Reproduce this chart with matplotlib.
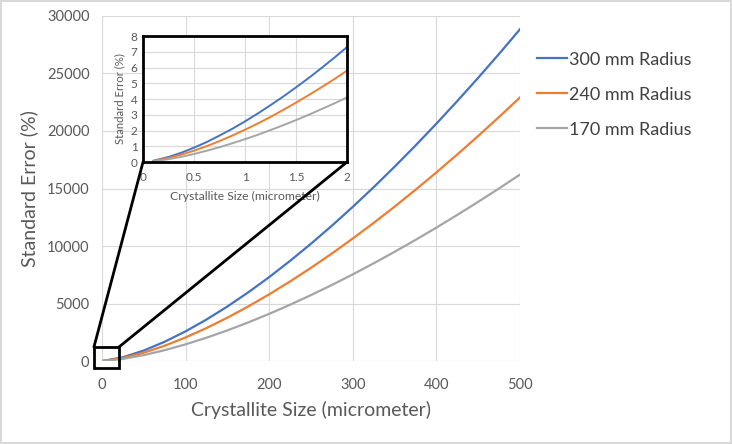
import matplotlib.pyplot as plt
from matplotlib.patches import Rectangle, ConnectionPatch

plt.rcParams['font.family'] = ['Lato', 'DejaVu Sans']

# main chart data (micrometer, %)
size = [0.1, 25, 50, 75, 100, 125, 150, 175, 200, 225, 250, 275, 300,
        325, 350, 375, 400, 425, 450, 475, 500]
err300 = [0, 322, 912, 1676, 2580, 3606, 4740, 5973, 7297, 8708, 10199,
          11766, 13406, 15116, 16893, 18736, 20640, 22605, 24629, 26709, 28850]
err240 = [0, 256, 725, 1331, 2050, 2865, 3766, 4746, 5798, 6919, 8104,
          9348, 10652, 12011, 13423, 14887, 16400, 17962, 19569, 21222, 22920]
err170 = [0, 181, 513, 942, 1450, 2026, 2664, 3357, 4101, 4894, 5732,
          6612, 7534, 8496, 9494, 10530, 11600, 12705, 13842, 15010, 16212]

# inset data
size_zoom = [0.1, 0.25, 0.375, 0.5, 0.625, 0.75, 0.875, 1.0, 1.125, 1.25,
             1.375, 1.5, 1.625, 1.75, 1.875, 2.0]
zoom300 = [0.08, 0.32, 0.59, 0.91, 1.27, 1.68, 2.11, 2.58, 3.08, 3.61,
           4.16, 4.74, 5.34, 5.97, 6.62, 7.3]
zoom240 = [0.06, 0.26, 0.47, 0.72, 1.01, 1.33, 1.68, 2.05, 2.45, 2.86,
           3.31, 3.77, 4.25, 4.75, 5.26, 5.8]
zoom170 = [0.05, 0.18, 0.33, 0.51, 0.72, 0.94, 1.19, 1.45, 1.73, 2.03,
           2.34, 2.66, 3.0, 3.36, 3.72, 4.1]

labels = ["300 mm Radius", "240 mm Radius", "170 mm Radius"]
colors = ["#4472C4", "#ED7D31", "#A5A5A5"]
grid_c = "#D9D9D9"
text_c = "#595959"

fig = plt.figure(figsize=(7.32, 4.44), dpi=100)
fig.patch.set_edgecolor(grid_c)
fig.patch.set_linewidth(1.5)

ax = fig.add_axes([0.1393, 0.1869, 0.5711, 0.7771])
for ys, c, lab in zip([err300, err240, err170], colors, labels):
    ax.plot(size, ys, color=c, lw=1.6, label=lab)
ax.set_xlim(0, 500)
ax.set_ylim(0, 30000)
ax.set_xticks(range(0, 501, 100))
ax.set_yticks(range(0, 30001, 5000))
ax.grid(True, color=grid_c, lw=0.8)
ax.set_axisbelow(True)
for s in ax.spines.values():
    s.set_visible(False)
ax.tick_params(axis='y', length=0, labelsize=10.5, labelcolor=text_c, pad=9)
ax.tick_params(axis='x', length=0, labelsize=10.5, labelcolor=text_c, pad=12)
ax.set_xlabel("Crystallite Size (micrometer)", fontsize=14, color=text_c, labelpad=7)
ax.set_ylabel("Standard Error (%)", fontsize=14, color=text_c, labelpad=6)

ax.legend(loc="center left", bbox_to_anchor=(1.02, 0.772), frameon=False,
          fontsize=13, labelcolor="#404040", handlelength=1.65,
          handletextpad=0.08, labelspacing=1.05, borderpad=0)

# inset
ins = fig.add_axes([0.1954, 0.6351, 0.2787, 0.2838])
for ys, c in zip([zoom300, zoom240, zoom170], colors):
    ins.plot(size_zoom, ys, color=c, lw=1.4)
ins.set_xlim(0, 2)
ins.set_ylim(0, 8)
ins.set_xticks([0, 0.5, 1, 1.5, 2])
ins.set_xticklabels(["0", "0.5", "1", "1.5", "2"])
ins.set_yticks(range(0, 9))
ins.grid(True, color=grid_c, lw=0.8)
ins.set_axisbelow(True)
for s in ins.spines.values():
    s.set_color("black")
    s.set_linewidth(2)
ins.tick_params(axis='y', length=0, labelsize=8.5, labelcolor=text_c, pad=4)
ins.tick_params(axis='x', length=0, labelsize=8.5, labelcolor=text_c, pad=7)
ins.set_xlabel("Crystallite Size (micrometer)", fontsize=8.7, color=text_c, labelpad=6)
ins.set_ylabel("Standard Error (%)", fontsize=8.2, color=text_c, labelpad=4)

# zoom box on main chart and connector lines
x0, x1 = -9.6, 20.3
y0, y1 = -609, 1217
ax.add_patch(Rectangle((x0, y0), x1 - x0, y1 - y0, fill=False, ec="black",
                       lw=2, clip_on=False, zorder=5))
for xa, xb in [(x0, 0), (x1, 1)]:
    con = ConnectionPatch(xyA=(xa, y1), coordsA=ax.transData,
                          xyB=(xb, 0), coordsB=ins.transAxes,
                          color="black", lw=2)
    fig.add_artist(con)

fig.savefig("out.png", dpi=100)
